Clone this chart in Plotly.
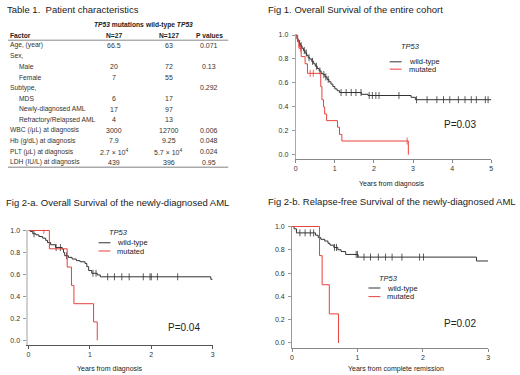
import plotly.graph_objects as go

W, H = 520, 375
FONT = "Liberation Sans, Arial, sans-serif"

# ---------------- DATA ----------------
# Table 1
table_title = "Table 1.  Patient characteristics"
col_groups = ["<i>TP53</i> mutations", "wild-type <i>TP53</i>"]
col_heads = ["Factor", "N=27", "N=127", "P values"]
factors = ["Age, (year)", "Sex,", "Male", "Female", "Subtype,", "MDS",
           "Newly-diagnosed AML", "Refractory/Relapsed AML",
           "WBC (/μL) at diagnosis", "Hb (g/dL) at diagnosis",
           "PLT (μL) at diagnosis", "LDH (IU/L) at diagnosis"]
indented = [0, 0, 1, 1, 0, 1, 1, 1, 0, 0, 0, 0]
mut_vals = ["66.5", "", "20", "7", "", "6", "17", "4", "3000", "7.9",
            "2.7 × 10<sup>4</sup>", "439"]
wt_vals = ["63", "", "72", "55", "", "17", "97", "13", "12700", "9.25",
           "5.7 × 10<sup>4</sup>", "396"]
p_vals = ["0.071", "", "0.13", "", "0.292", "", "", "", "0.006", "0.048",
          "0.024", "0.95"]

# Fig 1: overall survival, entire cohort
f1_wt_t = [0, 0.03, 0.06, 0.09, 0.12, 0.16, 0.20, 0.24, 0.28, 0.32, 0.36, 0.41,
           0.46, 0.50, 0.55, 0.60, 0.65, 0.70, 0.75, 0.80, 0.85, 0.90, 0.95,
           1.00, 1.06, 1.12, 1.68, 1.85, 2.95, 3.06, 5.0]
f1_wt_s = [1.0, 0.97, 0.95, 0.93, 0.91, 0.89, 0.87, 0.85, 0.83, 0.81, 0.80, 0.78,
           0.76, 0.74, 0.72, 0.70, 0.68, 0.67, 0.65, 0.63, 0.61, 0.59, 0.57,
           0.55, 0.535, 0.52, 0.505, 0.495, 0.48, 0.46, 0.46]
f1_wt_cens = [0.05, 0.10, 0.14, 0.22, 0.27, 0.34, 0.43, 0.53, 0.62, 0.72, 0.77,
              0.83, 1.16, 1.29, 1.42, 1.54, 1.67, 1.88, 1.96, 2.05, 2.13, 2.64,
              3.09, 3.36, 3.61, 3.78, 3.94, 4.16, 4.33, 4.49, 4.62, 4.85, 4.92]
f1_mu_t = [0, 0.04, 0.08, 0.14, 0.24, 0.30, 0.64, 0.67, 0.71, 0.74, 0.79, 1.07,
           1.12, 1.18, 2.88]
f1_mu_s = [1.0, 0.96, 0.89, 0.82, 0.76, 0.68, 0.57, 0.46, 0.40, 0.34, 0.285, 0.23,
           0.17, 0.115, 0.0]
f1_mu_cens = [0.12, 0.37, 0.45, 2.85]
f1_xticks = [0, 1, 2, 3, 4, 5]

# Fig 2-a: overall survival, newly-diagnosed AML
f2a_wt_t = [0, 0.03, 0.07, 0.12, 0.17, 0.23, 0.28, 0.31, 0.36, 0.44, 0.55, 0.57,
            0.59, 0.65, 0.71, 0.78, 0.84, 0.92, 0.95, 0.98, 1.03, 1.12, 1.17,
            2.97, 3.0]
f2a_wt_s = [1.0, 0.99, 0.97, 0.96, 0.945, 0.93, 0.91, 0.89, 0.87, 0.845, 0.83,
            0.80, 0.77, 0.755, 0.74, 0.725, 0.715, 0.70, 0.67, 0.635, 0.61,
            0.595, 0.578, 0.555, 0.555]
f2a_wt_cens = [0.09, 0.45, 0.52, 0.62, 1.05, 1.10, 1.29, 1.40, 1.52, 1.64, 1.87,
               1.98, 2.00, 2.10, 2.43]
f2a_mu_t = [0, 0.34, 0.63, 0.70, 0.74, 1.06, 1.12]
f2a_mu_s = [1.0, 0.833, 0.667, 0.5, 0.333, 0.167, 0.0]
f2a_mu_cens = [0.25]
f2_xticks = [0, 1, 2, 3]

# Fig 2-b: relapse-free survival, newly-diagnosed AML
f2b_wt_t = [0, 0.03, 0.067, 0.36, 0.40, 0.44, 0.50, 0.55, 0.58, 0.64, 0.70, 0.75,
            0.82, 1.01, 2.82, 3.0]
f2b_wt_s = [1.0, 0.98, 0.945, 0.925, 0.905, 0.89, 0.875, 0.855, 0.84, 0.82, 0.80,
            0.785, 0.76, 0.737, 0.704, 0.704]
f2b_wt_cens = [0.12, 0.20, 0.28, 0.33, 0.65, 0.68, 0.98, 1.00, 1.10, 1.20, 1.32,
               1.43, 1.53, 1.68, 1.95, 2.01]
f2b_mu_t = [0, 0.42, 0.46, 0.57, 0.71]
f2b_mu_s = [1.0, 0.75, 0.5, 0.25, 0.0]

y_ticks = [0.0, 0.2, 0.4, 0.6, 0.8, 1.0]
legend_title = "<i>TP53</i>"
legend_names = ["wild-type", "mutated"]

# ---------------- STYLE ----------------
BLACK = "#333333"
RED = "#e8413b"
TXT = "#222222"


def px(x):
    return x / W


def py(y):
    return 1 - y / H


def surv_at(ts, ss, c):
    v = ss[0]
    for t, s in zip(ts, ss):
        if t <= c:
            v = s
    return v


fig = go.Figure()
annotations = []
shapes = []


def add_panel(idx, x0, x1, xmax, y1, y0, yb, xcol, ycol, ywidth, xticks):
    k = y0 - y1
    top = y1 - 0.8
    xa = dict(domain=[px(x0), px(x1)], range=[0, xmax], tickvals=xticks,
              showline=True, linecolor=xcol, linewidth=1, ticks="outside",
              ticklen=3, tickcolor=xcol, showgrid=False, zeroline=False,
              ticklabelstandoff=0,
              tickfont=dict(size=7, color="#333", family=FONT),
              anchor="y" + ("" if idx == 1 else str(idx)), fixedrange=True)
    ya = dict(domain=[py(yb), py(top)],
              range=[-(yb - y0) / k, 1 + (y1 - top) / k],
              tickvals=y_ticks, ticktext=[f"{v:.1f}" for v in y_ticks],
              showline=True, linecolor=ycol, linewidth=ywidth, ticks="outside",
              ticklen=3, tickcolor="#999", showgrid=False, zeroline=False,
              ticklabelstandoff=2,
              tickfont=dict(size=7, color="#333", family=FONT),
              anchor="x" + ("" if idx == 1 else str(idx)), fixedrange=True)
    sfx = "" if idx == 1 else str(idx)
    fig.layout["xaxis" + sfx] = xa
    fig.layout["yaxis" + sfx] = ya
    return "x" + sfx, "y" + sfx


def add_curve(xr, yr, ts, ss, cens, color):
    fig.add_trace(go.Scatter(x=ts, y=ss, mode="lines", line=dict(color=color, width=1, shape="hv"),
                             xaxis=xr, yaxis=yr, showlegend=False, hoverinfo="skip"))
    if cens:
        fig.add_trace(go.Scatter(x=cens, y=[surv_at(ts, ss, c) for c in cens], mode="markers",
                                 marker=dict(symbol="line-ns", size=5, line=dict(color=color, width=0.8)),
                                 xaxis=xr, yaxis=yr, showlegend=False, hoverinfo="skip"))


def text(x, y, s, size=7, anchor="left", color=TXT):
    annotations.append(dict(x=px(x), y=py(y), xref="paper", yref="paper", text=s,
                            showarrow=False, xanchor=anchor, yanchor="middle",
                            font=dict(size=size, color=color, family=FONT)))


def legend(xl, ytitle, yl1, yl2):
    text(xl + 9, ytitle, legend_title, 7.5, "left")
    for yy, name, col in [(yl1, legend_names[0], BLACK), (yl2, legend_names[1], RED)]:
        shapes.append(dict(type="line", xref="paper", yref="paper", x0=px(xl), x1=px(xl + 12),
                           y0=py(yy), y1=py(yy), line=dict(color=col, width=1)))
        text(xl + 17, yy, name, 7.5, "left")


# Fig 1
xr, yr = add_panel(1, 296, 493, 5, 32.3, 153, 157, "#888", "#aaa", 1, f1_xticks)
add_curve(xr, yr, f1_wt_t, f1_wt_s, f1_wt_cens, BLACK)
add_curve(xr, yr, f1_mu_t, f1_mu_s, f1_mu_cens, RED)
# Fig 2-a
xr, yr = add_panel(2, 26.7, 212.3, 3, 229.3, 340, 344.3, "#555", "#d0d0d0", 2, f2_xticks)
add_curve(xr, yr, f2a_wt_t, f2a_wt_s, f2a_wt_cens, BLACK)
add_curve(xr, yr, f2a_mu_t, f2a_mu_s, f2a_mu_cens, RED)
# Fig 2-b
xr, yr = add_panel(3, 292.3, 490, 3, 225.3, 342.7, 347.7, "#888", "#999", 1, f2_xticks)
add_curve(xr, yr, f2b_wt_t, f2b_wt_s, f2b_wt_cens, BLACK)
add_curve(xr, yr, f2b_mu_t, f2b_mu_s, [], RED)

# Titles
text(3, 7, table_title, 9.5)
text(266, 7, "Fig 1. Overall Survival of the entire cohort", 9.5)
text(2, 201, "Fig 2-a. Overall Survival of the newly-diagnosed AML", 9.5)
text(266, 200, "Fig 2-b. Relapse-free Survival of the newly-diagnosed AML", 9.5)

# Axis titles
text(392.8, 182.7, "Years from diagnosis", 7, "center")
text(108.7, 368.5, "Years from diagnosis", 7, "center")
text(396.7, 368.5, "Years from complete remission", 7, "center")

# Legends
legend(390.7, 44.3, 59.3, 66.7)
legend(97.3, 231, 241.7, 250)
legend(369.3, 277.3, 287.3, 296)

# P values
text(461.7, 122.7, "P=0.03", 10, "center")
text(183.3, 327.3, "P=0.04", 10, "center")
text(461.7, 323.3, "P=0.02", 10, "center")

# Table
cx = [113, 168, 209]
text(118, 22, "<b>" + col_groups[0] + "</b>", 6.7, "center")
text(168, 22, "<b>" + col_groups[1] + "</b>", 6.7, "center")
text(6, 33, "<b>" + col_heads[0] + "</b>", 6.7, "left")
for c, h in zip(cx, col_heads[1:]):
    text(c, 33, "<b>" + h + "</b>", 6.7, "center")
shapes.append(dict(type="line", xref="paper", yref="paper", x0=px(6), x1=px(228),
                   y0=py(37.5), y1=py(37.5), line=dict(color="#888", width=1)))
shapes.append(dict(type="line", xref="paper", yref="paper", x0=px(6), x1=px(228),
                   y0=py(165.7), y1=py(165.7), line=dict(color="#aaa", width=1.5)))
for i, f in enumerate(factors):
    yy = 42.7 + i * 10.7
    text(15 if indented[i] else 6, yy, f, 6.7, "left", "#333")
    for c, v in zip(cx, [mut_vals[i], wt_vals[i], p_vals[i]]):
        if v:
            text(c, yy, v, 7, "center", "#333")

fig.update_layout(width=W, height=H, margin=dict(l=0, r=0, t=0, b=0),
                  paper_bgcolor="white", plot_bgcolor="white",
                  annotations=annotations, shapes=shapes, showlegend=False,
                  font=dict(family=FONT))
fig.write_html("out.html", config={"displayModeBar": False},
               post_script="document.body.style.margin='0';document.body.style.padding='0';")
